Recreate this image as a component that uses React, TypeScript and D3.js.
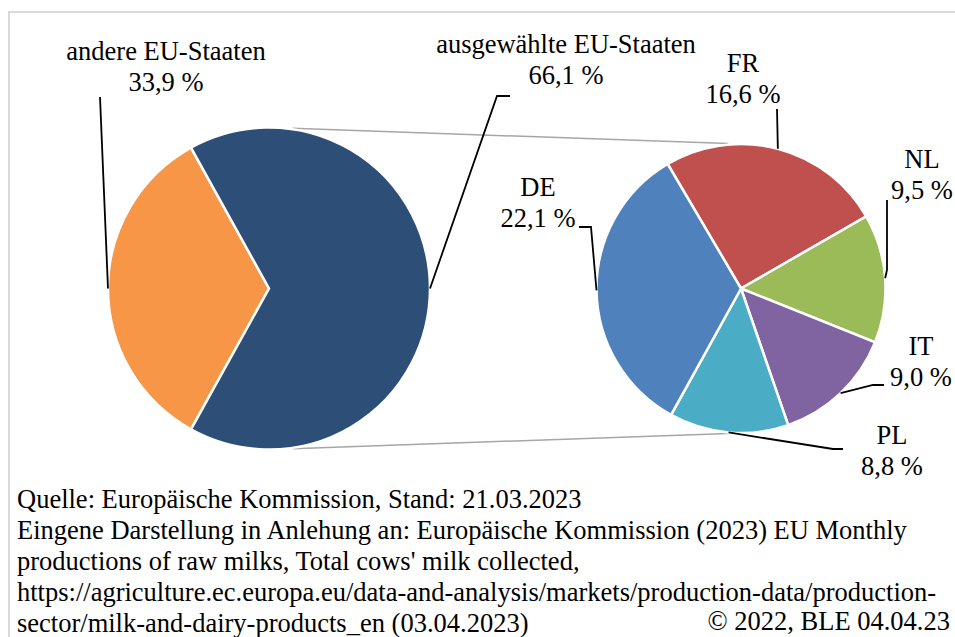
import React from "react";
import * as d3 from "d3";

// ---- data ----
const mainCategories = ["andere EU-Staaten", "ausgewählte EU-Staaten"];
const mainValues = [33.9, 66.1];
const mainLabels = ["33,9 %", "66,1 %"];

const subCategories = ["FR", "NL", "IT", "PL", "DE"];
const subValues = [16.6, 9.5, 9.0, 8.8, 22.1];
const subLabels = ["16,6 %", "9,5 %", "9,0 %", "8,8 %", "22,1 %"];

const footerLines = [
  "Quelle: Europäische Kommission, Stand: 21.03.2023",
  "Eingene Darstellung in Anlehung an: Europäische Kommission (2023) EU Monthly",
  "productions of raw milks, Total cows' milk collected,",
  "https://agriculture.ec.europa.eu/data-and-analysis/markets/production-data/production-",
  "sector/milk-and-dairy-products_en (03.04.2023)",
];
const copyright = "© 2022, BLE 04.04.23";

// ---- styling / layout ----
const W = 955;
const H = 637;
const FONT = "'Liberation Serif', 'Times New Roman', serif";
const FS = 26.5;
const mainColors = ["#F79646", "#2D4F77"];
const subColors = ["#C0504D", "#9BBB59", "#8064A2", "#4BACC6", "#4F81BD"];

const leftC = { x: 269, y: 288.5, r: 161 };
const rightC = { x: 741, y: 288.5, r: 144.5 };
const deg = Math.PI / 180;

// label layout: text centre x, first baseline, leader start points (before rim point)
const mainLabelLayout = [
  { x: 166, y: 60, leader: [[100, 97]] },
  { x: 566, y: 53, leader: [[510, 96], [497, 96]] },
];
const subLabelLayout = [
  { x: 743, y: 72, leader: [[777, 109]] },
  { x: 922, y: 168, leader: [[887, 200], [887, 270]] },
  { x: 921, y: 355, leader: [[884, 385], [873, 385]] },
  { x: 892, y: 444, leader: [[843, 449], [833, 449]] },
  { x: 538, y: 196, leader: [[579, 227], [591, 227]] },
];

function rim(c: { x: number; y: number; r: number }, a: number) {
  return [c.x + c.r * Math.sin(a), c.y - c.r * Math.cos(a)];
}

const textStyle = { fontFamily: FONT };

export default function App() {
  const mainTotal = d3.sum(mainValues);
  const mainStart = 1.5 * Math.PI - Math.PI * (mainValues[0] / mainTotal);
  const mainArcs = d3
    .pie<number>()
    .sort(null)
    .startAngle(mainStart)
    .endAngle(mainStart + 2 * Math.PI)(mainValues);

  const subStart = -30.5 * deg;
  const subArcs = d3
    .pie<number>()
    .sort(null)
    .startAngle(subStart)
    .endAngle(subStart + 2 * Math.PI)(subValues);

  const arcL = d3.arc<d3.PieArcDatum<number>>().innerRadius(0).outerRadius(leftC.r);
  const arcR = d3.arc<d3.PieArcDatum<number>>().innerRadius(0).outerRadius(rightC.r);

  const line = d3.line();

  // connector lines between the pies
  const connTopL = rim({ ...leftC, r: leftC.r + 1 }, 8.4 * deg);
  const connTopR = rim({ ...rightC, r: rightC.r + 1 }, -5 * deg);
  const connBotL = rim({ ...leftC, r: leftC.r + 1 }, 171.6 * deg);
  const connBotR = rim({ ...rightC, r: rightC.r + 1 }, 185 * deg);

  return (
    <svg
      width={W}
      height={H}
      style={{ position: "absolute", left: 0, top: 0, background: "#fff" }}
      fontFamily={FONT}
    >
      <rect x={0} y={0} width={W} height={H} fill="#fff" />
      {/* frame */}
      <path d={`M9,${H + 5} L9,12 L${W + 5},12`} fill="none" stroke="#D9D9D9" strokeWidth={2} />

      {/* connectors */}
      <path d={line([connTopL as [number, number], connTopR as [number, number]]) || ""} stroke="#A6A6A6" strokeWidth={1.5} fill="none" />
      <path d={line([connBotL as [number, number], connBotR as [number, number]]) || ""} stroke="#A6A6A6" strokeWidth={1.5} fill="none" />

      {/* left pie */}
      <g transform={`translate(${leftC.x},${leftC.y})`}>
        {mainArcs.map((a, i) => (
          <path key={i} d={arcL(a) || ""} fill={mainColors[i]} stroke="#fff" strokeWidth={2.5} strokeLinejoin="miter" />
        ))}
      </g>
      {/* right pie */}
      <g transform={`translate(${rightC.x},${rightC.y})`}>
        {subArcs.map((a, i) => (
          <path key={i} d={arcR(a) || ""} fill={subColors[i]} stroke="#fff" strokeWidth={2.5} strokeLinejoin="miter" />
        ))}
      </g>

      {/* main labels */}
      {mainArcs.map((a, i) => {
        const L = mainLabelLayout[i];
        const mid = (a.startAngle + a.endAngle) / 2;
        const p = rim(leftC, mid);
        const pts = [...L.leader, p] as [number, number][];
        return (
          <g key={i}>
            <path d={line(pts) || ""} fill="none" stroke="#000" strokeWidth={1.8} />
            <text x={L.x} y={L.y} fontSize={FS} textAnchor="middle" fill="#000" style={textStyle}>
              {mainCategories[i]}
            </text>
            <text x={L.x} y={L.y + 30.5} fontSize={FS} textAnchor="middle" fill="#000" style={textStyle}>
              {mainLabels[i]}
            </text>
          </g>
        );
      })}

      {/* sub labels */}
      {subArcs.map((a, i) => {
        const L = subLabelLayout[i];
        const mid = (a.startAngle + a.endAngle) / 2;
        const p = rim(rightC, mid);
        const pts = [...L.leader, p] as [number, number][];
        return (
          <g key={i}>
            <path d={line(pts) || ""} fill="none" stroke="#000" strokeWidth={1.8} />
            <text x={L.x} y={L.y} fontSize={FS} textAnchor="middle" fill="#000" style={textStyle}>
              {subCategories[i]}
            </text>
            <text x={L.x} y={L.y + 30.5} fontSize={FS} textAnchor="middle" fill="#000" style={textStyle}>
              {subLabels[i]}
            </text>
          </g>
        );
      })}

      {/* footer */}
      {footerLines.map((t, i) => (
        <text key={i} x={17} y={508 + i * 31} fontSize={FS} fill="#000" style={textStyle}>
          {t}
        </text>
      ))}
      <text x={950} y={630} fontSize={FS} textAnchor="end" fill="#000" style={textStyle}>
        {copyright}
      </text>
    </svg>
  );
}
